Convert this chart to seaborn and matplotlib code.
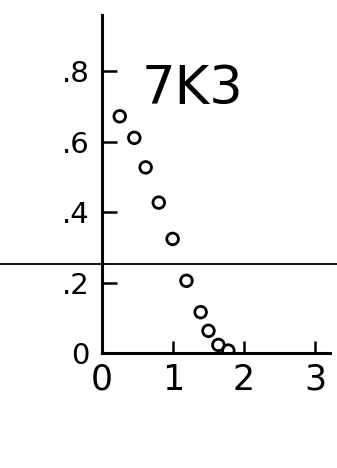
import seaborn as sns
import pandas as pd
import matplotlib.pyplot as plt

# values
x_vals = [0.25, 0.455, 0.615, 0.80, 0.995, 1.19, 1.39, 1.50, 1.64, 1.78]
y_vals = [0.672, 0.611, 0.527, 0.427, 0.324, 0.205, 0.116, 0.063, 0.023, 0.007]
ref_level = 0.252
label = '7K3'
y_ticks = [0, 0.2, 0.4, 0.6, 0.8]
y_ticklabels = ['0', '.2', '.4', '.6', '.8']
x_ticks = [0, 1, 2, 3]
x_ticklabels = ['0', '1', '2', '3']

df = pd.DataFrame({'x': x_vals, 'y': y_vals})

sns.set_style('white', {'xtick.bottom': True, 'ytick.left': True,
                        'xtick.direction': 'in', 'ytick.direction': 'in'})
plt.rcParams['font.family'] = ['DejaVu Sans']

fig = plt.figure(figsize=(3.37, 4.68), dpi=100)
ax = fig.add_axes([0.3027, 0.2457, 0.676, 0.7225])

sns.scatterplot(data=df, x='x', y='y', ax=ax, marker='o', s=70,
                facecolor='none', edgecolor='black', linewidth=2.0)

# horizontal reference line running across the whole page
ax.axhline(ref_level, xmin=-0.45, xmax=1.05, color='black', lw=1.3, clip_on=False)

ax.text(1.28, 0.75, label, fontsize=38, ha='center', va='center', color='black')

ax.set_xlim(0, 3.21)
ax.set_ylim(0, 0.96)
ax.set_xticks(x_ticks)
ax.set_xticklabels(x_ticklabels, fontsize=25)
ax.set_yticks(y_ticks)
ax.set_yticklabels(y_ticklabels, fontsize=21)
ax.tick_params(axis='y', left=True, direction='in', length=11, width=1.8,
               pad=9, color='black', labelcolor='black')
ax.tick_params(axis='x', bottom=True, direction='in', length=8.5, width=1.8,
               pad=7, color='black', labelcolor='black')
ax.set_xlabel('')
ax.set_ylabel('')

sns.despine(ax=ax)
for side in ['left', 'bottom']:
    ax.spines[side].set_linewidth(2.2)
    ax.spines[side].set_color('black')

fig.savefig('out.png', dpi=100)
